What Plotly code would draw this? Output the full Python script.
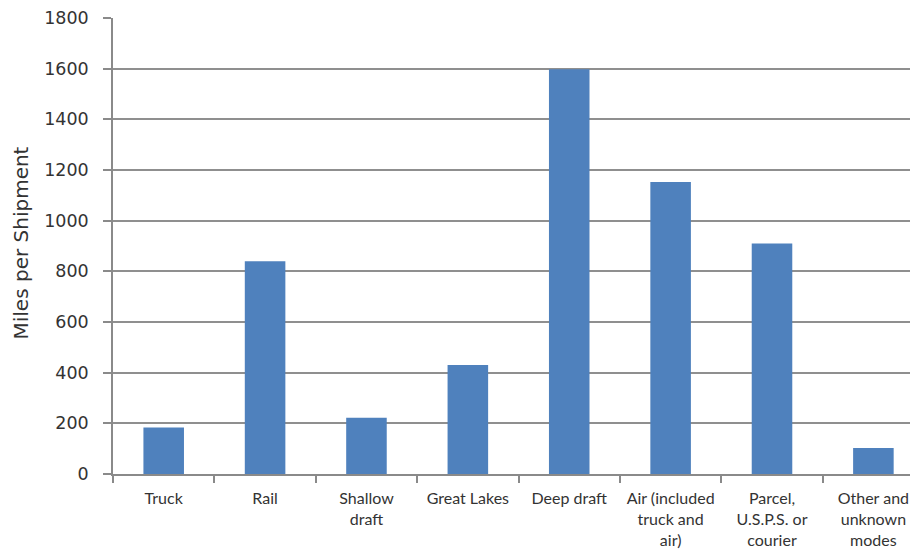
import plotly.graph_objects as go

categories = ["Truck", "Rail", "Shallow<br>draft", "Great Lakes", "Deep draft",
              "Air (included<br>truck and<br>air)", "Parcel,<br>U.S.P.S. or<br>courier",
              "Other and<br>unknown<br>modes"]
miles = [184, 840, 222, 430, 1598, 1153, 910, 103]
y_ticks = [0, 200, 400, 600, 800, 1000, 1200, 1400, 1600, 1800]

fig = go.Figure(go.Bar(x=categories, y=miles, marker_color="#4F81BD",
                       marker_line_width=0, width=0.4))

fig.update_layout(
    width=910, height=542,
    margin=dict(l=105, r=0, t=10, b=76),
    paper_bgcolor="white", plot_bgcolor="white",
    font=dict(family="Lato, sans-serif", color="#333333"),
    showlegend=False,
    bargap=0.6,
)
fig.update_xaxes(
    type="category", range=[-0.5, 7.44], automargin=False,
    showline=True, linecolor="#8a8a8a", linewidth=1.5,
    ticks="outside", tickson="boundaries", ticklen=7, tickcolor="#8a8a8a", tickwidth=1.5,
    ticklabelstandoff=9, tickangle=0,
    tickfont=dict(family="Lato, sans-serif", size=16, color="#333333"),
    showgrid=False,
)
fig.update_yaxes(
    range=[0, 1800], tickvals=y_ticks, automargin=False,
    showline=True, linecolor="#8a8a8a", linewidth=1.5,
    ticks="outside", ticklen=8, tickcolor="#8a8a8a", tickwidth=1.5,
    ticklabelstandoff=11,
    showgrid=True, gridcolor="#8f8f8f", gridwidth=1.5,
    tickfont=dict(family="DejaVu Sans, sans-serif", size=17.5, color="#333333"),
    zeroline=False,
)
fig.add_annotation(
    text="Miles per Shipment", textangle=-90,
    xref="paper", yref="paper", x=(13 - 105) / 805, y=(466 - 235.5) / 456,
    xanchor="center", yanchor="middle", showarrow=False,
    font=dict(family="DejaVu Sans, sans-serif", size=20, color="#333333"),
)

fig.write_html("out.html")
